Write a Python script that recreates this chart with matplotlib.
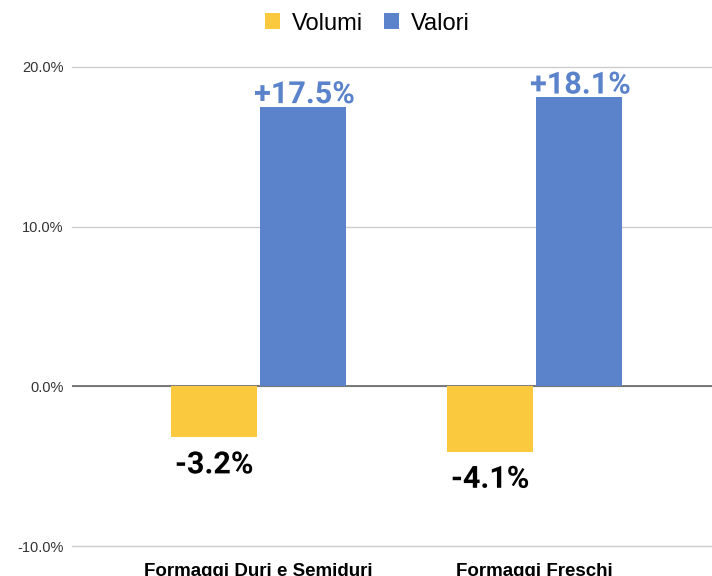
import numpy as np
import matplotlib.pyplot as plt
import matplotlib.patheffects as pe

categories = ['Formaggi Duri e Semiduri', 'Formaggi Freschi']
volumi = [-3.2, -4.1]
valori = [17.5, 18.1]
yticks = [-10, 0, 10, 20]

c_vol = '#FAC93E'
c_val = '#5B83CB'

plt.rcParams['font.family'] = ['Roboto', 'DejaVu Sans']

fig = plt.figure(figsize=(7.12, 5.76), dpi=100)
ax = fig.add_axes([0.101, 0.052, 0.899, 0.832])

x = np.arange(len(categories))
w = 0.312
b1 = ax.bar(x - w / 2 - 0.005, volumi, w, color=c_vol, label='Volumi', zorder=3)
b2 = ax.bar(x + w / 2 + 0.005, valori, w, color=c_val, label='Valori', zorder=3)

stroke = [pe.withStroke(linewidth=3, foreground='white')]
for rect, v in zip(b1, volumi):
    ax.text(rect.get_x() + rect.get_width() / 2, v - 0.75, f'{v:.1f}%',
            ha='center', va='top', fontsize=22, fontweight='bold',
            color='black', path_effects=stroke, zorder=4)
for rect, v in zip(b2, valori):
    ax.text(rect.get_x() + rect.get_width() / 2 + 0.005, v - 0.15, f'+{v:.1f}%',
            ha='center', va='bottom', fontsize=22, fontweight='bold',
            color=c_val, path_effects=stroke, zorder=4)

ax.set_ylim(-10, 20)
ax.set_xlim(-0.676, 1.643)
ax.set_yticks(yticks)
ax.set_yticklabels([f'{t:.1f}%' for t in yticks], color='#333333', fontsize=10.5,
                   family=['Liberation Sans', 'DejaVu Sans'])
ax.set_xticks(x)
ax.set_xticklabels(categories, fontsize=13.5, fontweight='bold',
                   family=['Liberation Sans', 'DejaVu Sans'])
ax.tick_params(axis='both', length=0)
ax.tick_params(axis='x', pad=12)
ax.tick_params(axis='y', pad=6)

ax.grid(axis='y', color='#cccccc', linewidth=1, zorder=0)
for gl in ax.get_ygridlines():
    gl.set_clip_on(False)
ax.axhline(0, color='#666666', linewidth=1.2, zorder=2)
for s in ax.spines.values():
    s.set_visible(False)

fig.legend(loc='upper center', bbox_to_anchor=(0.516, 1.015), ncol=2, frameon=False,
           handlelength=0.65, handleheight=0.65, handletextpad=0.5,
           columnspacing=0.9, prop={'family': ['Liberation Sans', 'DejaVu Sans'], 'size': 17})

fig.savefig('out.png', dpi=100)
